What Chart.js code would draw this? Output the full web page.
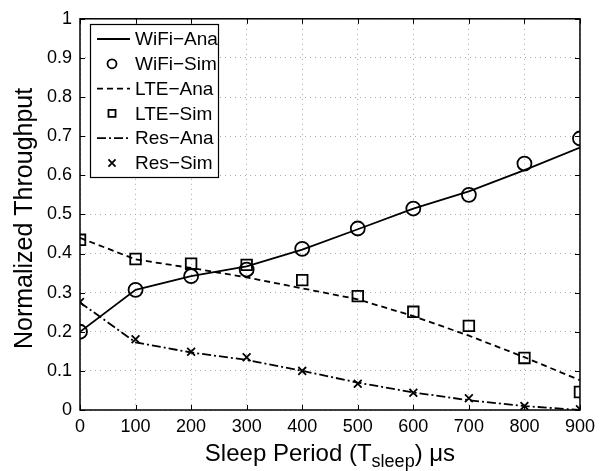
<!DOCTYPE html>
<html>
<head>
<meta charset="utf-8">
<script src="https://cdn.jsdelivr.net/npm/chart.js@4.4.1/dist/chart.umd.min.js"></script>
<style>
  html, body { margin: 0; padding: 0; background: #fff; }
  #wrap { width: 601px; height: 471px; }
</style>
</head>
<body>
<div id="wrap"><canvas id="tputChart" width="601" height="471"></canvas></div>
<script>
// sleep period (us)
const sleepPeriods = [0, 100, 200, 300, 400, 500, 600, 700, 800, 900];

// analytical curves
const wifiAna = [0.200, 0.307, 0.342, 0.367, 0.410, 0.462, 0.515, 0.559, 0.613, 0.671];
const lteAna  = [0.440, 0.385, 0.363, 0.339, 0.311, 0.283, 0.240, 0.190, 0.135, 0.076];
const resAna  = [0.275, 0.173, 0.147, 0.128, 0.100, 0.070, 0.045, 0.025, 0.010, 0.000];

// simulation points
const wifiSim = [0.200, 0.307, 0.342, 0.359, 0.412, 0.464, 0.515, 0.550, 0.630, 0.694];
const lteSim  = [0.435, 0.386, 0.374, 0.371, 0.332, 0.291, 0.251, 0.215, 0.133, 0.046];
const resSim  = [0.276, 0.181, 0.149, 0.135, 0.100, 0.067, 0.044, 0.030, 0.010, 0.002];

const seriesLabels = ['WiFi\u2212Ana', 'WiFi\u2212Sim', 'LTE\u2212Ana', 'LTE\u2212Sim', 'Res\u2212Ana', 'Res\u2212Sim'];
const xTitle = ['Sleep Period (T', 'sleep', ') \u03bcs'];
const yTitle = 'Normalized Throughput';

const FONT = '"Liberation Sans", Arial, Helvetica, sans-serif';

function pts(arr) {
  return sleepPeriods.map((x, i) => ({ x: x, y: arr[i] }));
}

function lineSet(label, arr, dash) {
  return {
    label: label, data: pts(arr), borderColor: '#000', borderWidth: 1.8,
    borderDash: dash, pointRadius: 0, tension: 0, fill: false, showLine: true
  };
}
function markSet(label, arr, style, r) {
  return {
    label: label, data: pts(arr), borderColor: '#000', backgroundColor: 'rgba(0,0,0,0)',
    borderWidth: 1.8, showLine: false, pointStyle: style, pointRadius: r,
    legendRadius: style === 'circle' ? 4.5 : 5
  };
}

// box, inward ticks, titles and the MATLAB style legend
const matlabDeco = {
  id: 'matlabDeco',
  afterDraw(chart) {
    const ctx = chart.ctx;
    const a = chart.chartArea;
    const xs = chart.scales.x, ys = chart.scales.y;
    ctx.save();
    ctx.strokeStyle = '#000';
    ctx.lineWidth = 1.5;
    ctx.setLineDash([]);
    ctx.strokeRect(a.left, a.top, a.right - a.left, a.bottom - a.top);
    // ticks
    ctx.lineWidth = 1;
    const tl = 5;
    ctx.beginPath();
    xs.ticks.forEach(t => {
      const px = Math.round(xs.getPixelForValue(t.value)) + 0.5;
      ctx.moveTo(px, a.bottom); ctx.lineTo(px, a.bottom - tl);
      ctx.moveTo(px, a.top); ctx.lineTo(px, a.top + tl);
    });
    ys.ticks.forEach(t => {
      const py = Math.round(ys.getPixelForValue(t.value)) + 0.5;
      ctx.moveTo(a.left, py); ctx.lineTo(a.left + tl, py);
      ctx.moveTo(a.right, py); ctx.lineTo(a.right - tl, py);
    });
    ctx.stroke();

    // x title with subscript
    ctx.fillStyle = '#000';
    ctx.textBaseline = 'alphabetic';
    ctx.textAlign = 'left';
    const big = '24px ' + FONT, small = '18px ' + FONT;
    ctx.font = big; const w1 = ctx.measureText(xTitle[0]).width;
    const w3 = ctx.measureText(xTitle[2]).width;
    ctx.font = small; const w2 = ctx.measureText(xTitle[1]).width;
    let x0 = (a.left + a.right) / 2 - (w1 + w2 + w3) / 2;
    const base = 461;
    ctx.font = big; ctx.fillText(xTitle[0], x0, base);
    ctx.font = small; ctx.fillText(xTitle[1], x0 + w1, base + 6);
    ctx.font = big; ctx.fillText(xTitle[2], x0 + w1 + w2, base);

    // y title
    ctx.save();
    ctx.translate(32, (a.top + a.bottom) / 2 + 4);
    ctx.rotate(-Math.PI / 2);
    ctx.textAlign = 'center';
    ctx.textBaseline = 'alphabetic';
    ctx.font = '25px ' + FONT;
    ctx.fillText(yTitle, 0, 0);
    ctx.restore();

    // legend
    const lx = 90, ly = 24, lw = 128, lh = 153;
    ctx.fillStyle = '#fff';
    ctx.fillRect(lx, ly, lw, lh);
    ctx.lineWidth = 1.2;
    ctx.strokeStyle = '#000';
    ctx.strokeRect(lx + 0.5, ly + 0.5, lw, lh);
    ctx.font = '19px ' + FONT;
    ctx.textBaseline = 'middle';
    chart.data.datasets.forEach((ds, i) => {
      const cy = ly + 15 + i * 24.8;
      if (ds.showLine) {
        ctx.save();
        ctx.lineWidth = 1.8;
        ctx.setLineDash(ds.borderDash || []);
        ctx.beginPath();
        ctx.moveTo(lx + 7, cy); ctx.lineTo(lx + 40, cy);
        ctx.stroke();
        ctx.restore();
      } else {
        ctx.fillStyle = 'rgba(0,0,0,0)';
        ctx.lineWidth = 1.8;
        Chart.helpers.drawPoint(ctx, {
          pointStyle: ds.pointStyle, radius: ds.legendRadius, borderWidth: 1.8, rotation: 0
        }, lx + 22, cy);
      }
      ctx.fillStyle = '#000';
      ctx.fillText(ds.label, lx + 45, cy + 1);
    });
    ctx.restore();
  }
};

const ctx = document.getElementById('tputChart').getContext('2d');
const tputChart = new Chart(ctx, {
  type: 'scatter',
  data: {
    datasets: [
      lineSet(seriesLabels[0], wifiAna, []),
      markSet(seriesLabels[1], wifiSim, 'circle', 7),
      lineSet(seriesLabels[2], lteAna, [6, 4]),
      markSet(seriesLabels[3], lteSim, 'rect', 7.5),
      lineSet(seriesLabels[4], resAna, [9, 3, 2, 3]),
      markSet(seriesLabels[5], resSim, 'crossRot', 5.5)
    ]
  },
  options: {
    responsive: false,
    animation: false,
    layout: { padding: { top: 15, right: 19, left: 0, bottom: 0 } },
    plugins: { legend: { display: false }, tooltip: { enabled: false } },
    scales: {
      x: {
        type: 'linear', min: 0, max: 900,
        afterFit: s => { s.height = 61; },
        ticks: { stepSize: 100, padding: 6, color: '#000', font: { family: FONT, size: 18 }, maxRotation: 0 },
        grid: { color: '#a8a8a8', lineWidth: 1, drawTicks: false },
        border: { display: false, dash: [1, 4] }
      },
      y: {
        min: 0, max: 1,
        afterFit: s => { s.width = 80; },
        ticks: {
          stepSize: 0.1, padding: 8, color: '#000', font: { family: FONT, size: 18 },
          callback: v => String(parseFloat(v.toFixed(1)))
        },
        grid: { color: '#a8a8a8', lineWidth: 1, drawTicks: false },
        border: { display: false, dash: [1, 4] }
      }
    }
  },
  plugins: [matlabDeco]
});
</script>
</body>
</html>
